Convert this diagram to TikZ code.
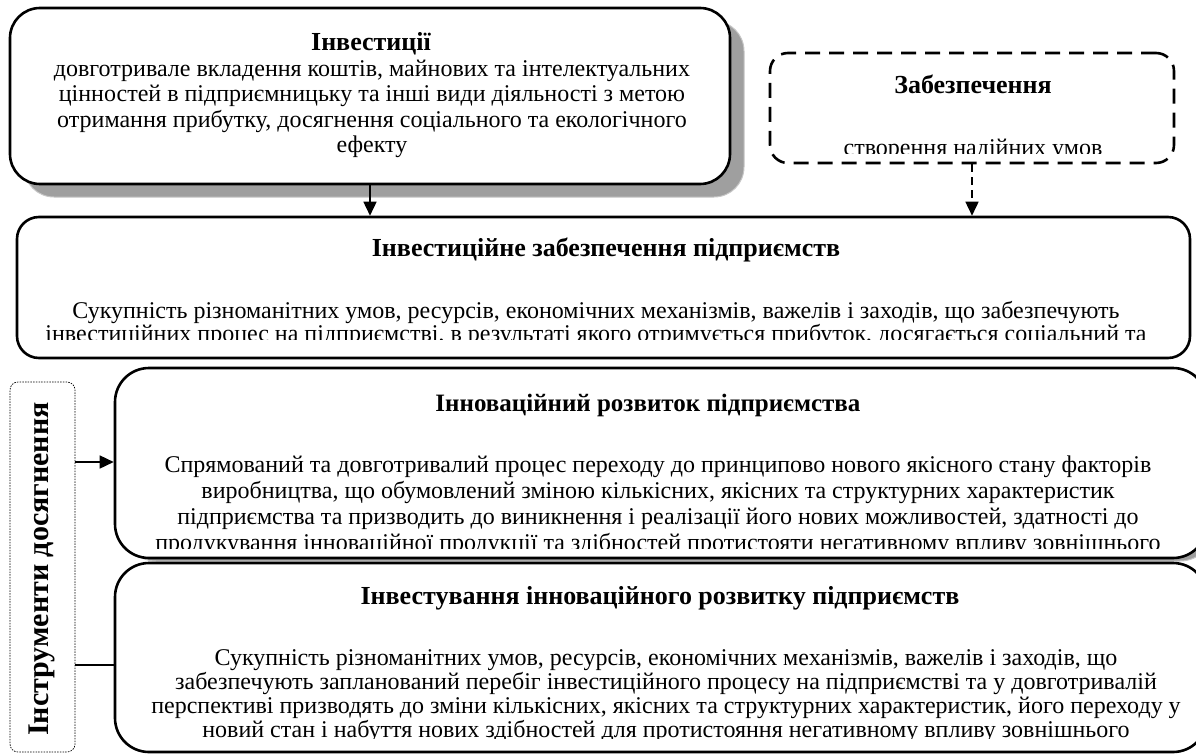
\documentclass[tikz,border=0pt]{standalone}
\usepackage{fontspec}
\setmainfont{Liberation Serif}
\usetikzlibrary{arrows.meta}
\begin{document}
\begin{tikzpicture}[x=1pt,y=-1pt,
  box/.style={draw, line width=2.6pt, rounded corners=#1, inner sep=0pt, fill=white},
  box/.default=25pt,
  shadowbox/.style={draw=gray!45, line width=1pt, fill=gray!75, rounded corners=#1, inner sep=0pt},
  shadowbox/.default=30pt,
  dashbox/.style={draw, line width=2.6pt, dash pattern=on 15pt off 9pt, rounded corners=18pt, inner sep=0pt},
  dotbox/.style={draw, line width=0.7pt, dash pattern=on 1.5pt off 1.2pt, rounded corners=8pt, inner sep=0pt},
  txt/.style={align=center, inner sep=0pt, font=\fontsize{24}{25.5}\selectfont},
  ttl/.style={inner sep=0pt, font=\bfseries\fontsize{26}{28}\selectfont},
  arr/.style={line width=1.6pt, -{Triangle[length=14pt,width=13pt]}},
  conn/.style={line width=1.6pt}
]
\useasboundingbox (0,0) rectangle (1196,755);
% Box 1 shadow and box
\node[shadowbox, minimum width=720pt, minimum height=176pt] (b1s) at (384,109) {};
\node[box=30pt, minimum width=720pt, minimum height=176pt] (b1) at (370,96) {};
\node[ttl] (t1) at (371,44) {Інвестиції};
\node[txt] (d1) at (372,109) {довготривале вкладення коштів, майнових та інтелектуальних\\ цінностей в підприємницьку та інші види діяльності з метою\\ отримання прибутку, досягнення соціального та екологічного\\ ефекту};
% Box 2
\node[dashbox, minimum width=404pt, minimum height=110pt] (b2) at (972,108) {};
\node[ttl] (t2) at (973,84) {Забезпечення};
\begin{scope}
\clip (780,60) rectangle (1165,153);
\node[txt] (d2) at (973,150) {створення надійних умов};
\end{scope}
% Box 3
\node[box=22pt, minimum width=1173pt, minimum height=141pt] (b3) at (603.5,287.5) {};
\node[ttl] (t3) at (606,250) {Інвестиційне забезпечення підприємств};
\begin{scope}
\clip (30,225) rectangle (1180,339);
\node[txt, font=\fontsize{24}{23.5}\selectfont, anchor=north] (d3) at (596,301) {Сукупність різноманітних умов, ресурсів, економічних механізмів, важелів і заходів, що забезпечують\\ інвестиційних процес на підприємстві, в результаті якого отримується прибуток, досягається соціальний та};
\end{scope}
% Box 4
\node[shadowbox=34pt, minimum width=1092pt, minimum height=190pt] (b4s) at (668,466) {};
\node[box=34pt, minimum width=1092pt, minimum height=190pt] (b4) at (661,463) {};
\node[ttl, font=\bfseries\fontsize{25}{27}\selectfont] (t4) at (648,405) {Інноваційний розвиток підприємства};
\begin{scope}
\clip (130,375) rectangle (1190,548);
\node[txt, font=\fontsize{24}{26}\selectfont, anchor=north] (d4) at (658,456) {Спрямований та довготривалий процес переходу до принципово нового якісного стану факторів\\ виробництва, що обумовлений зміною кількісних, якісних та структурних характеристик\\ підприємства та призводить до виникнення і реалізації його нових можливостей, здатності до\\ продукування інноваційної продукції та здібностей протистояти негативному впливу зовнішнього};
\end{scope}
% Box 5
\node[box=34pt, minimum width=1092pt, minimum height=189pt] (b5) at (661,657.5) {};
\node[ttl] (t5) at (660,598) {Інвестування інноваційного розвитку підприємств};
\begin{scope}
\clip (130,570) rectangle (1190,738);
\node[txt, font=\fontsize{24}{24.2}\selectfont, anchor=north] (d5) at (666,649) {Сукупність різноманітних умов, ресурсів, економічних механізмів, важелів і заходів, що\\ забезпечують запланований перебіг інвестиційного процесу на підприємстві та у довготривалій\\ перспективі призводять до зміни кількісних, якісних та структурних характеристик, його переходу у\\ новий стан і набуття нових здібностей для протистояння негативному впливу зовнішнього};
\end{scope}
% Left dotted box
\node[dotbox, minimum width=65pt, minimum height=370pt] (lb) at (42.5,567) {};
\node[ttl, rotate=90, font=\bfseries\fontsize{30}{32}\selectfont] (lt) at (42,569) {Інструменти досягнення};
% Connectors
\draw[arr] (b1.south) -- (b3.north -| b1.south);
\draw[arr, dash pattern=on 8pt off 5pt] (b2.south) -- (b3.north -| b2.south);
\draw[arr] (lb.east |- 0,462) -- (b4.west |- 0,462);
\draw[conn] (lb.east |- 0,665) -- (b5.west |- 0,665);
\end{tikzpicture}
\end{document}
